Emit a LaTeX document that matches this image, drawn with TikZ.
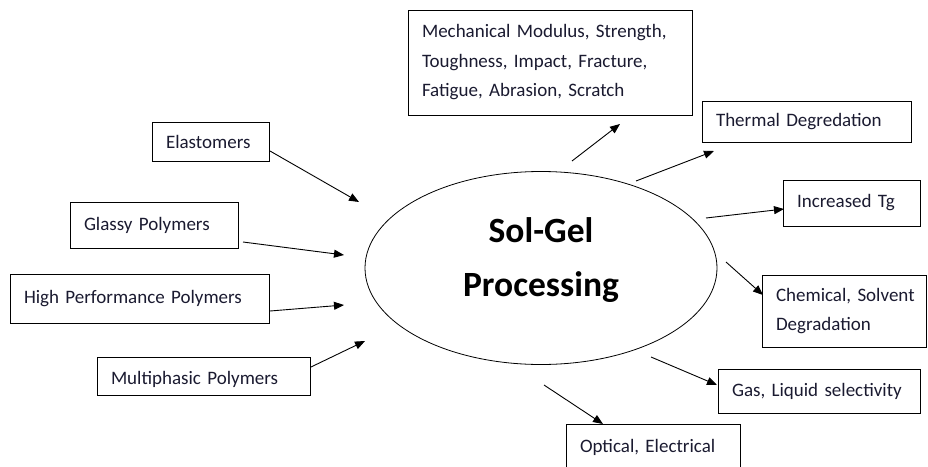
\documentclass[tikz,border=0pt]{standalone}
\usepackage{fontspec}
\setmainfont{Carlito}
\usetikzlibrary{arrows.meta,shapes.geometric}
\definecolor{txt}{HTML}{1A1A30}
\begin{document}
\begin{tikzpicture}[x=1pt,y=-1pt,
 box/.style={draw,line width=0.9pt,inner xsep=14pt,inner ysep=0pt,align=left,text=txt,font=\fontsize{19}{29.5}\selectfont},
 arr/.style={-{Triangle[length=10pt,width=8pt]},line width=0.9pt}]
\useasboundingbox (0,0) rectangle (928,466);
% central ellipse
\node[draw,ellipse,line width=0.8pt,minimum width=352pt,minimum height=193pt,inner sep=0pt] (sg) at (541,268) {};
\node[font=\bfseries\fontsize{35.5}{54}\selectfont,align=center] (sgt) at (541,260) {Sol-Gel\\Processing};
% left boxes
\node[box,minimum width=117pt,minimum height=39pt,text width=89pt] (el) at (210.5,141.5) {Elastomers};
\node[box,minimum width=168pt,minimum height=46pt,text width=140pt] (gl) at (154,225) {Glassy Polymers};
\node[box,minimum width=259pt,minimum height=49pt,text width=231pt] (hp) at (139.5,298.5) {High Performance Polymers};
\node[box,minimum width=213pt,minimum height=38pt,text width=185pt] (mp) at (203.5,376) {\raisebox{-8pt}[0pt][0pt]{Multiphasic Polymers}};
% right boxes
\node[box,minimum width=284pt,minimum height=105pt,text width=256pt] (me) at (550,62.5) {Mechanical Modulus, Strength,\\Toughness, Impact, Fracture,\\Fatigue, Abrasion, Scratch};
\node[box,minimum width=209pt,minimum height=41pt,text width=181pt] (th) at (806.5,121.5) {Thermal Degredation};
\node[box,minimum width=137pt,minimum height=46pt,text width=109pt] (tg) at (851.5,203) {Increased Tg};
\node[box,minimum width=164pt,minimum height=72pt,text width=136pt] (ch) at (844,311) {\mbox{Chemical, Solvent}\\Degradation};
\node[box,minimum width=202pt,minimum height=44pt,text width=174pt] (ga) at (819,391) {Gas, Liquid selectivity};
\node[box,minimum width=174pt,minimum height=46pt,text width=146pt,anchor=north] (op) at (653,424) {\raisebox{-5pt}[0pt][0pt]{Optical, Electrical}};
% arrow end points
\coordinate (el-o) at (270,151); \coordinate (el-i) at (359,202);
\coordinate (gl-o) at (243,242); \coordinate (gl-i) at (344,255);
\coordinate (hp-o) at (270,311); \coordinate (hp-i) at (344,305);
\coordinate (mp-o) at (311,367); \coordinate (mp-i) at (365,341);
\coordinate (me-o) at (572,161); \coordinate (me-i) at (620,124);
\coordinate (th-o) at (636,181); \coordinate (th-i) at (714,151);
\coordinate (tg-o) at (706,218); \coordinate (tg-i) at (784,209);
\coordinate (ch-o) at (726,262); \coordinate (ch-i) at (763,295);
\coordinate (ga-o) at (651,357); \coordinate (ga-i) at (717,385);
\coordinate (op-o) at (544,385); \coordinate (op-i) at (603,424);
\foreach \a in {el,gl,hp,mp,me,th,tg,ch,ga,op}
  \draw[arr] (\a-o) -- (\a-i);
\end{tikzpicture}
\end{document}
